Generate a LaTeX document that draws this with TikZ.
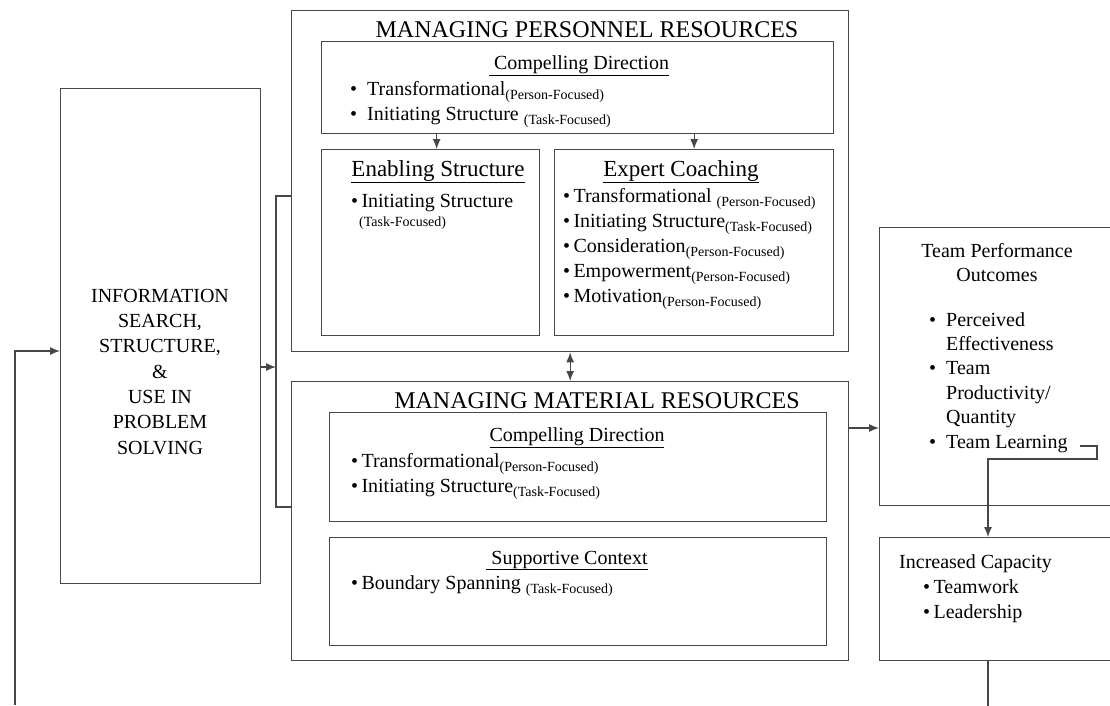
\documentclass[tikz,border=0pt]{standalone}
\usepackage{fontspec}
\setmainfont{Liberation Serif}
\usetikzlibrary{positioning,calc,arrows.meta}
\colorlet{linegray}{black!72}
\newcommand{\focus}[1]{\raisebox{-4pt}{\fontsize{14}{14}\selectfont(#1)}}

\begin{document}
\begin{tikzpicture}
  [x=1pt, y=-1pt,
   box/.style={draw=linegray, line width=1.3pt, anchor=north west, inner sep=0pt},
   bigtitle/.style={font=\fontsize{24}{28}\selectfont, anchor=base, inner sep=0pt},
   subtitle/.style={font=\fontsize{23}{27}\selectfont, anchor=base, inner sep=0pt},
   head/.style={font=\fontsize{20}{25}\selectfont, anchor=base, inner sep=0pt},
   % multi-line nodes: base = baseline of the last line
   items/.style={font=\fontsize{20}{25}\selectfont, align=left, anchor=base west, inner sep=0pt},
   link/.style={draw=linegray, line width=1.3pt},
   arrow/.style={link, -{Latex[length=10pt,width=8pt]}}
  ]
  \useasboundingbox (0,0) rectangle (1110,705);
  \clip (0,0) rectangle (1110,705);

  % INFORMATION
  \node [box, minimum width=200pt, minimum height=495pt] (info) at (60,88) {};
  \node [head, align=center, font=\fontsize{20}{25.3}\selectfont] (infotext) at (160,454)
    {INFORMATION\\SEARCH,\\STRUCTURE,\\\&\\USE IN\\PROBLEM\\SOLVING};

  % PERSONNEL
  \node [box, minimum width=557pt, minimum height=341pt] (personnel) at (291,10) {};
  \node [bigtitle] (personneltitle) at (587,37) {MANAGING PERSONNEL RESOURCES};

  \node [box, minimum width=512pt, minimum height=92pt] (pdirection) at (321,41) {};
  \node [head] (pdirectiontitle) at (579,69) {\underline{\ Compelling Direction}};
  \node [items] (pdirectionitems) at (350,120)
    {\textbullet\ \ Transformational\focus{Person-Focused}\\
     \textbullet\ \ Initiating Structure \focus{Task-Focused}};

  \node [box, minimum width=218pt, minimum height=186pt] (enabling) at (321,149) {};
  \node [subtitle] (enablingtitle) at (438,176) {\underline{Enabling Structure}};
  \node [items] (enablingitems) at (351,226)
    {\textbullet\,Initiating Structure\\[-6pt]
     \hspace*{8pt}{\fontsize{14}{14}\selectfont(Task-Focused)}};

  \node [box, minimum width=279pt, minimum height=186pt] (expert) at (554,149) {};
  \node [subtitle] (experttitle) at (681,176) {\underline{Expert Coaching}};
  \node [items] (expertitems) at (563,302)
    {\textbullet\,Transformational \focus{Person-Focused}\\
     \textbullet\,Initiating Structure\focus{Task-Focused}\\
     \textbullet\,Consideration\focus{Person-Focused}\\
     \textbullet\,Empowerment\focus{Person-Focused}\\
     \textbullet\,Motivation\focus{Person-Focused}};

  % MATERIAL
  \node [box, minimum width=557pt, minimum height=279pt] (material) at (291,381) {};
  \node [bigtitle] (materialtitle) at (597,408) {MANAGING MATERIAL RESOURCES};

  \node [box, minimum width=497pt, minimum height=109pt] (mdirection) at (329,412) {};
  \node [head] (mdirectiontitle) at (577,441) {\underline{Compelling Direction}};
  \node [items] (mdirectionitems) at (351,492)
    {\textbullet\,Transformational\focus{Person-Focused}\\
     \textbullet\,Initiating Structure\focus{Task-Focused}};

  \node [box, minimum width=497pt, minimum height=108pt] (support) at (329,537) {};
  \node [head] (supporttitle) at (567,564) {\underline{\ Supportive Context}};
  \node [items] (supportitems) at (351,589)
    {\textbullet\,Boundary Spanning \focus{Task-Focused}};

  % OUTCOMES
  \node [box, minimum width=250pt, minimum height=278pt] (team) at (879,227) {};
  \node [head, align=center, font=\fontsize{20}{24}\selectfont] (teamtitle) at (997,281)
    {Team Performance\\Outcomes};
  \node [items, font=\fontsize{20}{24.4}\selectfont] (teamitems) at (929,448)
    {\textbullet\ \ Perceived\\
     \hphantom{\textbullet\ \ }Effectiveness\\
     \textbullet\ \ Team\\
     \hphantom{\textbullet\ \ }Productivity/\\
     \hphantom{\textbullet\ \ }Quantity\\
     \textbullet\ \ Team Learning};

  \node [box, minimum width=250pt, minimum height=123pt] (capacity) at (879,537) {};
  \node [items] (capacityitems) at (899,618)
    {Increased Capacity\\
     \hspace*{24pt}\textbullet\,Teamwork\\
     \hspace*{24pt}\textbullet\,Leadership};

  % CONNECTORS
  \draw[arrow] ($(enabling.north)+(6,-16)$) -- ($(enabling.north)+(6,0)$);
  \draw[arrow] (expert.north |- pdirection.south) -- (expert.north);
  \draw[link, {Latex[length=10pt,width=8pt]}-{Latex[length=10pt,width=8pt]}] (personnel.south) -- (material.north);

  \coordinate (fork) at (276,367);
  \coordinate (forktop) at (276,196);
  \coordinate (forkbot) at (276,507);
  \draw[arrow] (info.east |- fork) -- (fork);
  \draw[link] (personnel.west |- forktop) -- (forktop) -- (forkbot) -- (material.west |- forkbot);

  \coordinate (loopstart) at (15,705);
  \coordinate (loopturn) at (15,351);
  \draw[arrow] (loopstart) -- (loopturn) -- (info.west |- loopturn);

  \draw[arrow] ($(material.north east)+(0,47)$) -- ($(team.north west)+(0,201)$);

  \coordinate (learnend) at (1080,446);
  \draw[arrow] (learnend) -- ++(17,0) -- ++(0,13) -| ($(capacity.north west)+(109,0)$);
  \draw[link] ($(capacity.south west)+(109,0)$) -- ++(0,45);
\end{tikzpicture}
\end{document}
